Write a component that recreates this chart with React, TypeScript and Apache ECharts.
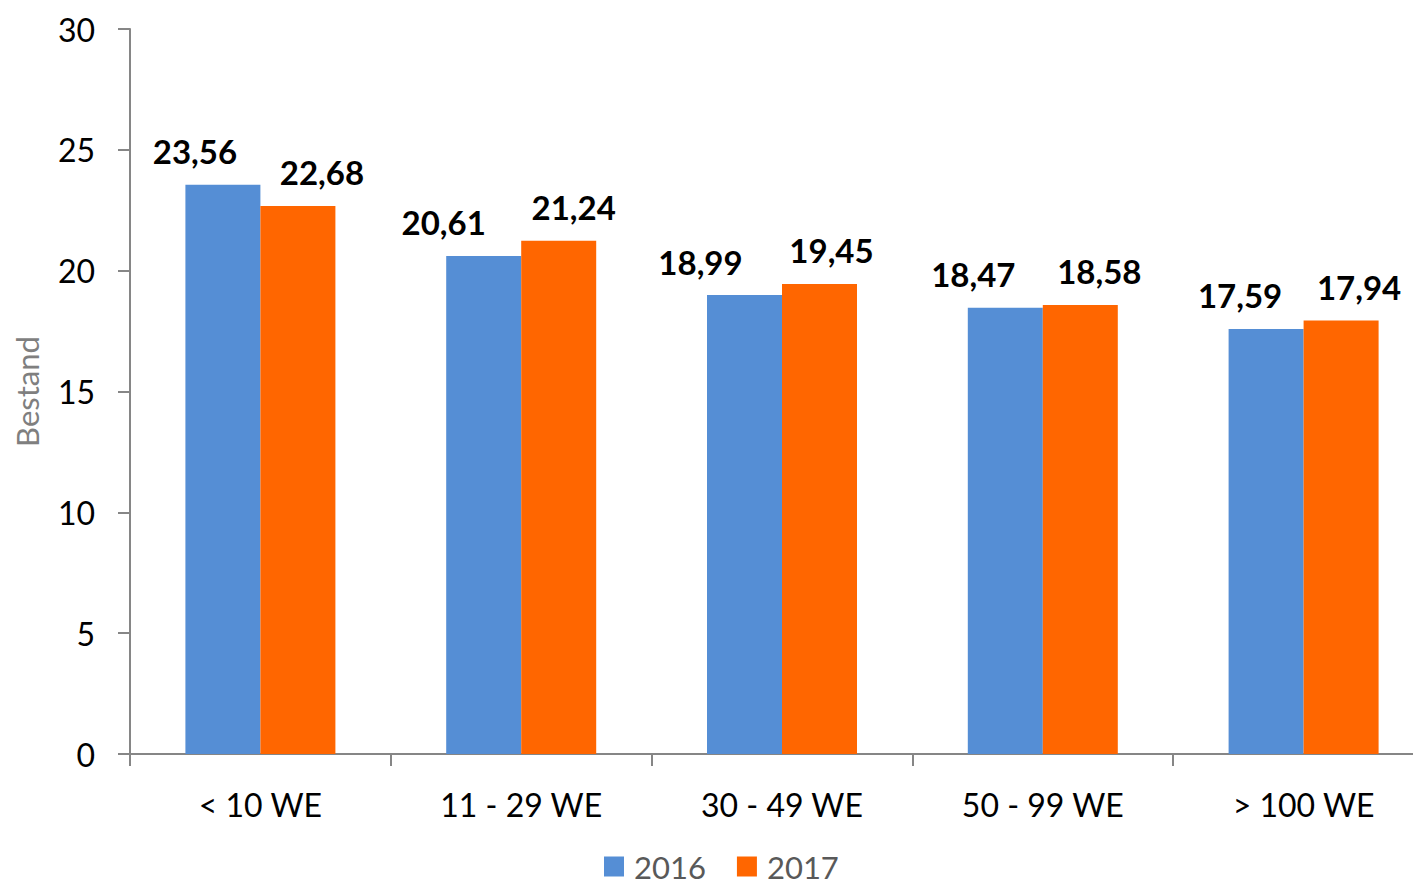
import React, { useEffect, useRef } from "react";
import * as echarts from "echarts";

const categories = ["< 10 WE", "11 - 29 WE", "30 - 49 WE", "50 - 99 WE", "> 100 WE"];
const values2016 = [23.56, 20.61, 18.99, 18.47, 17.59];
const values2017 = [22.68, 21.24, 19.45, 18.58, 17.94];
const seriesNames = ["2016", "2017"];
const yTicks = { min: 0, max: 30, interval: 5 };

// horizontal label shifts (style only)
const shift2016 = [-28, -40, -44, -32, -26];
const shift2017 = [24, 15, 12, 19, 18];

const FONT = "Lato, 'Open Sans', sans-serif";

export default function App() {
  const ref = useRef<HTMLDivElement>(null);
  useEffect(() => {
    if (!ref.current) return;
    const chart = echarts.init(ref.current, undefined, { renderer: "svg" });
    const fmt = (p: any) => String(p.value).replace(".", ",");
    const mk = (vals: number[], shifts: number[]) =>
      vals.map((v, i) => ({ value: v, label: { offset: [shifts[i], 0] } }));
    const labelStyle = {
      show: true,
      position: "top",
      distance: 17,
      fontSize: 33,
      fontWeight: "bold",
      color: "#000",
      fontFamily: FONT,
      formatter: fmt,
    };
    chart.setOption({
      animation: false,
      textStyle: { fontFamily: FONT },
      grid: {
        left: 130,
        right: -21,
        top: 29,
        bottom: 131,
        containLabel: false,
        outerBoundsMode: "none",
      },
      legend: {
        left: 604,
        top: 851,
        padding: 0,
        itemWidth: 20,
        itemHeight: 20,
        itemGap: 31,
        itemTextGap: 10,
        icon: "rect",
        data: seriesNames,
        textStyle: {
          fontSize: 31,
          color: "#595959",
          fontFamily: FONT,
          lineHeight: 28,
          padding: [0, 0, 0, 5],
        },
      },
      xAxis: {
        type: "category",
        data: categories,
        axisLine: { lineStyle: { color: "#868686", width: 2 } },
        axisTick: { show: true, length: 12, lineStyle: { color: "#868686", width: 2 } },
        axisLabel: { fontSize: 32, color: "#000", margin: 34, fontFamily: FONT },
      },
      yAxis: {
        type: "value",
        min: yTicks.min,
        max: yTicks.max,
        interval: yTicks.interval,
        name: "Bestand",
        nameLocation: "middle",
        nameRotate: 90,
        nameGap: 88,
        nameTextStyle: { fontSize: 31, color: "#7f7f7f", fontFamily: FONT },
        axisLine: { show: true, lineStyle: { color: "#868686", width: 2 } },
        axisTick: { show: true, length: 12, lineStyle: { color: "#868686", width: 2 } },
        splitLine: { show: false },
        axisLabel: { fontSize: 32, color: "#000", margin: 35, fontFamily: FONT },
      },
      series: [
        {
          name: seriesNames[0],
          type: "bar",
          data: mk(values2016, shift2016),
          barWidth: 75,
          barGap: "0%",
          itemStyle: { color: "#558ED5" },
          label: labelStyle,
        },
        {
          name: seriesNames[1],
          type: "bar",
          data: mk(values2017, shift2017),
          barWidth: 75,
          barGap: "0%",
          itemStyle: { color: "#FF6600" },
          label: labelStyle,
        },
      ],
    });
    return () => chart.dispose();
  }, []);
  return (
    <div
      ref={ref}
      style={{ position: "fixed", left: 0, top: 0, width: 1413, height: 885, background: "#fff" }}
    />
  );
}
